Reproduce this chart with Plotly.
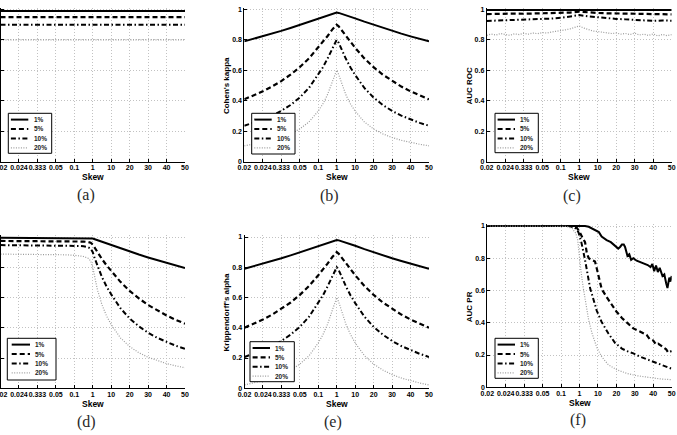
import plotly.graph_objects as go

W, H = 677, 435
YMAX = 1.012

# ---------------- data ----------------
skew_labels = ["0.02", "0.024", "0.333", "0.05", "0.1", "1", "10", "20", "30", "40", "50"]
skew_ticks = [0, 1, 2, 3, 4, 5, 6, 7, 8, 9, 10]
y_ticks = [0, 0.2, 0.4, 0.6, 0.8, 1.0]
y_labels = ["0", "0.2", "0.4", "0.6", "0.8", "1"]
series_names = ["1%", "5%", "10%", "20%"]

# position (in tick units) of the sampled skew values
pos_sym = [0, 0.5, 1, 1.5, 2, 2.5, 3, 3.5, 4, 4.25, 4.5, 4.75, 4.889, 5,
           5.111, 5.25, 5.5, 5.75, 6, 6.5, 7, 7.5, 8, 8.5, 9, 9.5, 10]

# (a) accuracy
acc_x = [0, 10]
acc_1 = [0.99, 0.99]
acc_5 = [0.95, 0.95]
acc_10 = [0.90, 0.90]
acc_20 = [0.80, 0.80]

# (b) Cohen's kappa
kap_1 = [0.7903, 0.8065, 0.8234, 0.8411, 0.8595, 0.8788, 0.8989, 0.9199, 0.9419, 0.9520, 0.9623, 0.9724, 0.9776,
         0.98, 0.9776, 0.9724, 0.9623, 0.9520, 0.9419, 0.9199, 0.8989, 0.8788, 0.8595, 0.8411, 0.8234, 0.8065, 0.7903]
kap_5 = [0.4090, 0.4336, 0.4614, 0.4930, 0.5291, 0.5711, 0.6202, 0.6784, 0.7484, 0.7847, 0.8241, 0.8663, 0.8889,
         0.90, 0.8889, 0.8663, 0.8241, 0.7847, 0.7484, 0.6784, 0.6202, 0.5711, 0.5291, 0.4930, 0.4614, 0.4336, 0.4090]
kap_10 = [0.2352, 0.2539, 0.2757, 0.3017, 0.3331, 0.3717, 0.4205, 0.4839, 0.5694, 0.6183, 0.6756, 0.7422, 0.7805,
          0.80, 0.7805, 0.7422, 0.6756, 0.6183, 0.5694, 0.4839, 0.4205, 0.3717, 0.3331, 0.3017, 0.2757, 0.2539, 0.2352]
kap_20 = [0.1034, 0.1132, 0.1249, 0.1394, 0.1578, 0.1816, 0.2139, 0.2601, 0.3315, 0.3779, 0.4385, 0.5191, 0.5714,
          0.60, 0.5714, 0.5191, 0.4385, 0.3779, 0.3315, 0.2601, 0.2139, 0.1816, 0.1578, 0.1394, 0.1249, 0.1132, 0.1034]

# (c) AUC ROC
roc_x1 = [0, 5, 10]
roc_1 = [0.996, 0.998, 0.996]
roc_x2 = [0, 0.5, 1, 1.5, 2, 2.5, 3, 3.5, 4, 4.5, 5, 5.5, 6, 6.5, 7, 7.5, 8, 8.5, 9, 9.5, 10]
roc_5 = [0.970, 0.972, 0.971, 0.973, 0.972, 0.974, 0.973, 0.975, 0.977, 0.980, 0.986,
         0.980, 0.977, 0.975, 0.974, 0.973, 0.972, 0.973, 0.971, 0.970, 0.968]
roc_10 = [0.925, 0.927, 0.930, 0.928, 0.933, 0.935, 0.938, 0.940, 0.945, 0.952, 0.963,
          0.955, 0.948, 0.942, 0.938, 0.935, 0.932, 0.930, 0.925, 0.928, 0.926]
roc_x4 = [round(i * 0.25, 2) for i in range(41)]
roc_20 = [0.830, 0.838, 0.832, 0.842, 0.836, 0.830, 0.840, 0.835, 0.843, 0.838, 0.845,
          0.841, 0.848, 0.845, 0.852, 0.856, 0.858, 0.866, 0.872, 0.882, 0.892,
          0.878, 0.866, 0.858, 0.855, 0.852, 0.848, 0.842, 0.845, 0.838, 0.842,
          0.835, 0.845, 0.832, 0.838, 0.829, 0.840, 0.826, 0.836, 0.828, 0.835]

# (d) F-measure
fm_1 = [0.9949, 0.9949, 0.9949, 0.9948, 0.9948, 0.9948, 0.9947, 0.9946, 0.9945, 0.9943, 0.9941, 0.9934, 0.9925,
        0.99, 0.9851, 0.9790, 0.9682, 0.9577, 0.9474, 0.9252, 0.9041, 0.8839, 0.8646, 0.8462, 0.8285, 0.8115, 0.7952]
fm_5 = [0.9739, 0.9738, 0.9737, 0.9736, 0.9735, 0.9734, 0.9731, 0.9727, 0.9719, 0.9712, 0.9698, 0.9667, 0.9620,
        0.95, 0.9268, 0.8994, 0.8539, 0.8128, 0.7755, 0.7037, 0.6441, 0.5938, 0.5507, 0.5135, 0.4810, 0.4524, 0.4270]
fm_10 = [0.9464, 0.9463, 0.9461, 0.9459, 0.9457, 0.9454, 0.9449, 0.9441, 0.9424, 0.9410, 0.9384, 0.9323, 0.9231,
         0.90, 0.8571, 0.8090, 0.7347, 0.6729, 0.6207, 0.5294, 0.4615, 0.4091, 0.3673, 0.3333, 0.3051, 0.2813, 0.2609]
fm_20 = [0.8869, 0.8867, 0.8864, 0.8861, 0.8856, 0.8850, 0.8840, 0.8824, 0.8791, 0.8763, 0.8713, 0.8595, 0.8421,
         0.80, 0.7273, 0.6531, 0.5517, 0.4776, 0.4211, 0.3333, 0.2759, 0.2353, 0.2051, 0.1818, 0.1633, 0.1481, 0.1356]

# (e) Krippendorff's alpha
alp_1 = [0.7901, 0.8063, 0.8233, 0.8410, 0.8594, 0.8787, 0.8988, 0.9199, 0.9418, 0.9520, 0.9623, 0.9724, 0.9776,
         0.98, 0.9776, 0.9724, 0.9623, 0.9520, 0.9418, 0.9199, 0.8988, 0.8787, 0.8594, 0.8410, 0.8233, 0.8063, 0.7901]
alp_5 = [0.4008, 0.4262, 0.4548, 0.4872, 0.5243, 0.5671, 0.6172, 0.6764, 0.7474, 0.7840, 0.8238, 0.8661, 0.8889,
         0.90, 0.8889, 0.8661, 0.8238, 0.7840, 0.7474, 0.6764, 0.6172, 0.5671, 0.5243, 0.4872, 0.4548, 0.4262, 0.4008]
alp_10 = [0.2072, 0.2275, 0.2512, 0.2793, 0.3130, 0.3545, 0.4064, 0.4735, 0.5631, 0.6139, 0.6731, 0.7413, 0.7802,
          0.80, 0.7802, 0.7413, 0.6731, 0.6139, 0.5631, 0.4735, 0.4064, 0.3545, 0.3130, 0.2793, 0.2512, 0.2275, 0.2072]
alp_20 = [0.0225, 0.0348, 0.0497, 0.0679, 0.0907, 0.1203, 0.1598, 0.2157, 0.3002, 0.3539, 0.4230, 0.5126, 0.5694,
          0.60, 0.5694, 0.5126, 0.4230, 0.3539, 0.3002, 0.2157, 0.1598, 0.1203, 0.0907, 0.0679, 0.0497, 0.0348, 0.0225]

# (f) AUC PR
pr_x1 = [0, 5.3, 5.5, 5.65, 5.93, 6.05, 6.2, 6.47, 6.7, 6.93, 7.1, 7.2, 7.3, 7.4, 7.47, 7.6, 7.7, 7.8, 7.92, 8.1,
         8.3, 8.5, 8.7, 8.85, 8.95, 9.05, 9.15, 9.25, 9.35, 9.5, 9.6, 9.7, 9.77, 9.87, 9.93, 10]
pr_1 = [1.0, 1.0, 0.995, 0.985, 0.965, 0.962, 0.935, 0.913, 0.9, 0.88, 0.86, 0.87, 0.885, 0.885, 0.87, 0.815, 0.825,
        0.79, 0.80, 0.785, 0.775, 0.765, 0.758, 0.745, 0.765, 0.72, 0.755, 0.715, 0.74, 0.69, 0.70, 0.645, 0.615,
        0.68, 0.655, 0.69]
pr_x5 = [0, 4.6, 4.85, 5.0, 5.15, 5.3, 5.4, 5.5, 5.65, 5.84, 5.93, 6.05, 6.2, 6.47, 6.75, 7.0, 7.3, 7.56, 7.92, 8.1,
         8.28, 8.5, 8.64, 8.8, 9.0, 9.15, 9.27, 9.4, 9.55, 9.7, 9.82, 10]
pr_5 = [1.0, 1.0, 0.99, 0.965, 0.93, 0.9, 0.83, 0.80, 0.79, 0.78, 0.74, 0.674, 0.61, 0.56, 0.51, 0.47, 0.43, 0.40,
        0.365, 0.355, 0.345, 0.33, 0.325, 0.30, 0.29, 0.265, 0.27, 0.26, 0.25, 0.235, 0.215, 0.225]
pr_x10 = [0, 4.4, 4.75, 4.95, 5.1, 5.2, 5.3, 5.4, 5.5, 5.58, 5.77, 5.93, 6.2, 6.56, 6.93, 7.3, 7.56, 7.92, 8.28,
          8.64, 9.0, 9.37, 9.73, 10]
pr_10 = [1.0, 1.0, 0.99, 0.96, 0.9, 0.85, 0.79, 0.726, 0.674, 0.612, 0.54, 0.477, 0.405, 0.335, 0.275, 0.24, 0.225,
         0.21, 0.19, 0.175, 0.16, 0.14, 0.128, 0.115]
pr_x20 = [0, 4.3, 4.6, 4.8, 4.9, 4.97, 5.07, 5.2, 5.35, 5.5, 5.68, 5.93, 6.2, 6.56, 7.0, 7.6, 8.1, 8.64, 9.37, 10]
pr_20 = [1.0, 0.998, 0.985, 0.955, 0.915, 0.83, 0.73, 0.62, 0.52, 0.415, 0.335, 0.25, 0.19, 0.14, 0.11, 0.085,
         0.072, 0.062, 0.052, 0.047]

# ---------------- styles ----------------
styles = {
    "1%": dict(color="black", width=2, dash="solid"),
    "5%": dict(color="black", width=2.2, dash="5px,3px"),
    "10%": dict(color="black", width=2, dash="5px,2.5px,1.5px,2.5px"),
    "20%": dict(color="#9c9c9c", width=1.2, dash="1px,1.5px"),
}
FONT = "Liberation Sans"

panels = [
    dict(px=(0.5, 185, 9.5, 161.5), ytitle=None, cap="(a)", cap_xy=(86, 195),
         leg=(8.3, 113.3, 43.4, 40),
         data=[(acc_x, acc_1), (acc_x, acc_5), (acc_x, acc_10), (acc_x, acc_20)]),
    dict(px=(244.3, 429, 9.5, 161.5), ytitle="Cohen's kappa", cap="(b)", cap_xy=(329, 196),
         leg=(251.7, 113.3, 43.3, 40.7),
         data=[(pos_sym, kap_1), (pos_sym, kap_5), (pos_sym, kap_10), (pos_sym, kap_20)]),
    dict(px=(486.7, 671.7, 9.5, 161.5), ytitle="AUC ROC", cap="(c)", cap_xy=(572, 196),
         leg=(495, 113.3, 43.3, 39.4),
         data=[(roc_x1, roc_1), (roc_x2, roc_5), (roc_x2, roc_10), (roc_x4, roc_20)]),
    dict(px=(0.5, 185, 237, 388.3), ytitle=None, cap="(d)", cap_xy=(86, 422),
         leg=(7.3, 338.3, 48.7, 41.7),
         data=[(pos_sym, fm_1), (pos_sym, fm_5), (pos_sym, fm_10), (pos_sym, fm_20)]),
    dict(px=(244.5, 429, 237, 388.3), ytitle="Krippendorff's alpha", cap="(e)", cap_xy=(333, 422),
         leg=(250, 341.7, 44.3, 40),
         data=[(pos_sym, alp_1), (pos_sym, alp_5), (pos_sym, alp_10), (pos_sym, alp_20)]),
    dict(px=(487.3, 671.7, 226, 387.3), ytitle="AUC PR", cap="(f)", cap_xy=(578, 420),
         leg=(495, 338.3, 43.3, 40),
         data=[(pr_x1, pr_1), (pr_x5, pr_5), (pr_x10, pr_10), (pr_x20, pr_20)]),
]

fig = go.Figure()
layout = dict(template="none", width=W, height=H, margin=dict(l=0, r=0, t=0, b=0, autoexpand=False),
              paper_bgcolor="white", plot_bgcolor="white", showlegend=False,
              hovermode=False)
shapes, annos = [], []

for i, p in enumerate(panels, start=1):
    sfx = "" if i == 1 else str(i)
    x0, x1, yt, yb = p["px"]
    yt_adj = yb - (yb - yt) * YMAX
    common = dict(showgrid=True, gridcolor="#c2c2c2", gridwidth=1, griddash="1px,2px",
                  showline=True, linecolor="black", linewidth=1, ticks="inside", ticklen=3,
                  tickcolor="black", tickwidth=1, zeroline=False, fixedrange=True,
                  automargin=False, ticklabeloverflow="allow", tickangle=0,
                  tickfont=dict(family=FONT, size=7, color="black", weight="bold"))
    layout["xaxis" + sfx] = dict(common, domain=[x0 / W, x1 / W], range=[0, 10],
                                 tickvals=skew_ticks, ticktext=skew_labels,
                                 ticklabelstandoff=-1, anchor="y" + sfx)
    layout["yaxis" + sfx] = dict(common, domain=[1 - yb / H, 1 - yt_adj / H], range=[0, YMAX],
                                 tickvals=y_ticks, ticktext=y_labels,
                                 anchor="x" + sfx)
    for name, (xs, ys) in zip(series_names, p["data"]):
        st = styles[name]
        fig.add_trace(go.Scatter(x=xs, y=ys, mode="lines", name=name,
                                 xaxis="x" + sfx, yaxis="y" + sfx,
                                 line=dict(color=st["color"], width=st["width"], dash=st["dash"])))
    # Skew title
    cx = (x0 + x1) / 2
    annos.append(dict(x=cx / W, y=1 - (yb + 15.6) / H, xref="paper", yref="paper",
                      text="Skew", showarrow=False, xanchor="center", yanchor="middle",
                      font=dict(family=FONT, size=8.5, color="black", weight="bold")))
    # y title
    if p["ytitle"]:
        tx = x0 - 17.7
        annos.append(dict(x=tx / W, y=1 - ((yt + yb) / 2) / H, xref="paper", yref="paper",
                          text=p["ytitle"], showarrow=False, textangle=-90,
                          xanchor="center", yanchor="middle",
                          font=dict(family=FONT, size=8, color="black", weight="bold")))
    # caption
    cxp, cyp = p["cap_xy"]
    annos.append(dict(x=cxp / W, y=1 - cyp / H, xref="paper", yref="paper",
                      text=p["cap"], showarrow=False, xanchor="center", yanchor="middle",
                      font=dict(family="Liberation Serif", size=16, color="#2a2a2a")))
    # legend box
    L, T, LW, LH = p["leg"]
    shapes.append(dict(type="rect", xref="paper", yref="paper", layer="above",
                       x0=L / W, x1=(L + LW) / W, y0=1 - (T + LH) / H, y1=1 - T / H,
                       line=dict(color="black", width=1), fillcolor="white"))
    if LW >= 48:
        s0, s1, tx0 = 4.4, 22.7, 26
    else:
        s0, s1, tx0 = 2.6, 20, 23.3
    for j, name in enumerate(series_names):
        st = styles[name]
        ey = T + 6.3 + 9.4 * j
        shapes.append(dict(type="line", xref="paper", yref="paper", layer="above",
                           x0=(L + s0) / W, x1=(L + s1) / W, y0=1 - ey / H, y1=1 - ey / H,
                           line=dict(color=st["color"], width=st["width"], dash=st["dash"])))
        annos.append(dict(x=(L + tx0) / W, y=1 - ey / H, xref="paper", yref="paper",
                          text=name, showarrow=False, xanchor="left", yanchor="middle",
                          font=dict(family=FONT, size=6.5, color="#222", weight="bold")))

layout["shapes"] = shapes
layout["annotations"] = annos
fig.update_layout(**layout)
fig.write_html("out.html", config={"displayModeBar": False})
